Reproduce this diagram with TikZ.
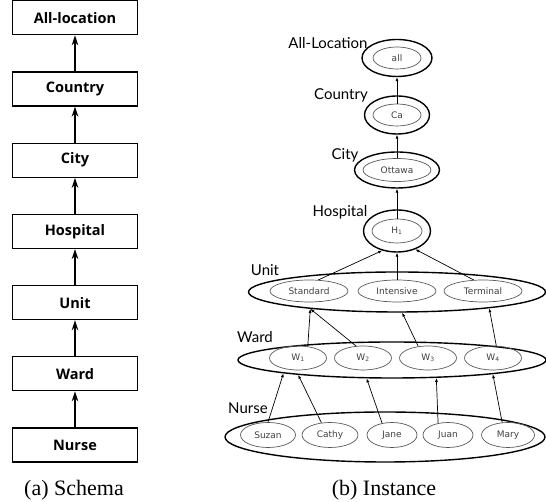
\documentclass[tikz,border=0pt]{standalone}
\usepackage{fontspec}
\setmainfont{Liberation Serif}
\newfontfamily\boxfont{Open Sans}
\newfontfamily\lvlfont{Lato}
\newfontfamily\valfont{DejaVu Sans}
\usetikzlibrary{arrows.meta, positioning, shapes.geometric}

\begin{document}
\begin{tikzpicture}[
  x=1pt, y=1pt,
  schemabox/.style={draw, line width=1.2pt, minimum width=125pt, minimum height=34pt,
                    font=\boxfont\bfseries\fontsize{14.5}{16}\selectfont},
  uparrow/.style={-{Stealth[length=10pt,width=6.5pt]}, line width=2pt},
  levelset/.style={draw, ellipse, line width=1.4pt, inner sep=0pt},
  valnode/.style={draw=black!65, ellipse, line width=0.7pt, inner sep=0pt,
                  font=\valfont\fontsize{9}{10}\selectfont, text=black!75},
  lvllabel/.style={font=\lvlfont\fontsize{15}{17}\selectfont},
  rollup/.style={-{Latex[length=4pt,width=3pt]}, line width=0.7pt},
  caption/.style={font=\fontsize{22}{24}\selectfont},
  node distance=36pt,
]
\useasboundingbox (0,0) rectangle (546,502);
%% Schema
\node[schemabox] (nurse) at (75,57) {Nurse};
\node[schemabox, above=of nurse] (ward) {Ward};
\node[schemabox, above=of ward] (unit) {Unit};
\node[schemabox, above=of unit] (hospital) {Hospital};
\node[schemabox, above=of hospital] (city) {City};
\node[schemabox, above=of city] (country) {Country};
\node[schemabox, above=of country] (alllocation) {All-location};
\draw[uparrow] (nurse) -- (ward);
\draw[uparrow] (ward) -- (unit);
\draw[uparrow] (unit) -- (hospital);
\draw[uparrow] (hospital) -- (city);
\draw[uparrow] (city) -- (country);
\draw[uparrow] (country) -- (alllocation);
\node[caption] (capa) at (74,12) {(a) Schema};
%% Instance: All-Location, Country, City, Hospital
\node[levelset, minimum width=70pt, minimum height=37pt] (allset) at (397,444) {};
\node[valnode, minimum width=48pt, minimum height=22pt] (all) at (allset) {all};
\node[lvllabel] (alllbl) at (328,459) {All-Location};
\node[levelset, minimum width=65pt, minimum height=38pt] (caset) at (397,387) {};
\node[valnode, minimum width=48pt, minimum height=22pt] (ca) at (caset) {Ca};
\node[lvllabel] (countrylbl) at (341,407) {Country};
\node[levelset, minimum width=85pt, minimum height=36pt] (ottset) at (397,332) {};
\node[valnode, minimum width=68pt, minimum height=23pt] (ottawa) at (ottset) {Ottawa};
\node[lvllabel] (citylbl) at (345,347) {City};
\node[levelset, minimum width=67pt, minimum height=42pt] (hset) at (397,271) {};
\node[valnode, minimum width=50pt, minimum height=24pt] (h1) at (hset) {H\textsubscript{1}};
\node[lvllabel] (hosplbl) at (340,290) {Hospital};
%% Unit
\node[levelset, minimum width=297pt, minimum height=40pt] (unitset) at (397,210) {};
\node[valnode, minimum width=78pt, minimum height=22pt] (std) at (309,211) {Standard};
\node[valnode, minimum width=78pt, minimum height=22pt] (int) at (397,211) {Intensive};
\node[valnode, minimum width=78pt, minimum height=22pt] (ter) at (483,211) {Terminal};
\node[lvllabel] (unitlbl) at (265,232) {Unit};
%% Ward
\node[levelset, minimum width=308pt, minimum height=36pt] (wardset) at (392,142) {};
\node[valnode, minimum width=57pt, minimum height=24pt] (w1) at (298,144) {W\textsubscript{1}};
\node[valnode, minimum width=57pt, minimum height=24pt] (w2) at (363,144) {W\textsubscript{2}};
\node[valnode, minimum width=57pt, minimum height=24pt] (w3) at (428,144) {W\textsubscript{3}};
\node[valnode, minimum width=57pt, minimum height=24pt] (w4) at (493,144) {W\textsubscript{4}};
\node[lvllabel] (wardlbl) at (255,165) {Ward};
%% Nurse
\node[levelset, minimum width=320pt, minimum height=50pt] (nurseset) at (385,65) {};
\node[valnode, minimum width=55pt, minimum height=25pt] (suzan) at (268,67) {Suzan};
\node[valnode, minimum width=56pt, minimum height=25pt] (cathy) at (330,67) {Cathy};
\node[valnode, minimum width=50pt, minimum height=25pt] (jane) at (392,67) {Jane};
\node[valnode, minimum width=50pt, minimum height=25pt] (juan) at (448,67) {Juan};
\node[valnode, minimum width=53pt, minimum height=25pt] (mary) at (508,67) {Mary};
\node[lvllabel] (nurselbl) at (248,94) {Nurse};
%% Roll-up links
\draw[rollup] (ca.north) -- (allset.south);
\draw[rollup] (ottawa.north) -- (caset.south);
\draw[rollup] (h1.north) -- (ottset.south);
\draw[rollup] (std.50) -- (hset.233.7);
\draw[rollup] (int.north) -- (hset.south);
\draw[rollup] (ter.130) -- (hset.315.5);
\draw[rollup] (w1.50) -- (unitset.191.1);
\draw[rollup] (w2.120) -- (unitset.191.1);
\draw[rollup] (w3.130) -- (unitset.284);
\draw[rollup] (w4.75) -- (unitset.350.2);
\draw[rollup] (suzan.north) -- (wardset.187.8);
\draw[rollup] (cathy.125) -- (wardset.189.2);
\draw[rollup] (jane.130) -- (wardset.216.5);
\draw[rollup] (juan.130) -- (wardset.338.1);
\draw[rollup] (mary.115) -- (wardset.352.3);
\node[caption] (capb) at (384,12) {(b) Instance};
\end{tikzpicture}
\end{document}
